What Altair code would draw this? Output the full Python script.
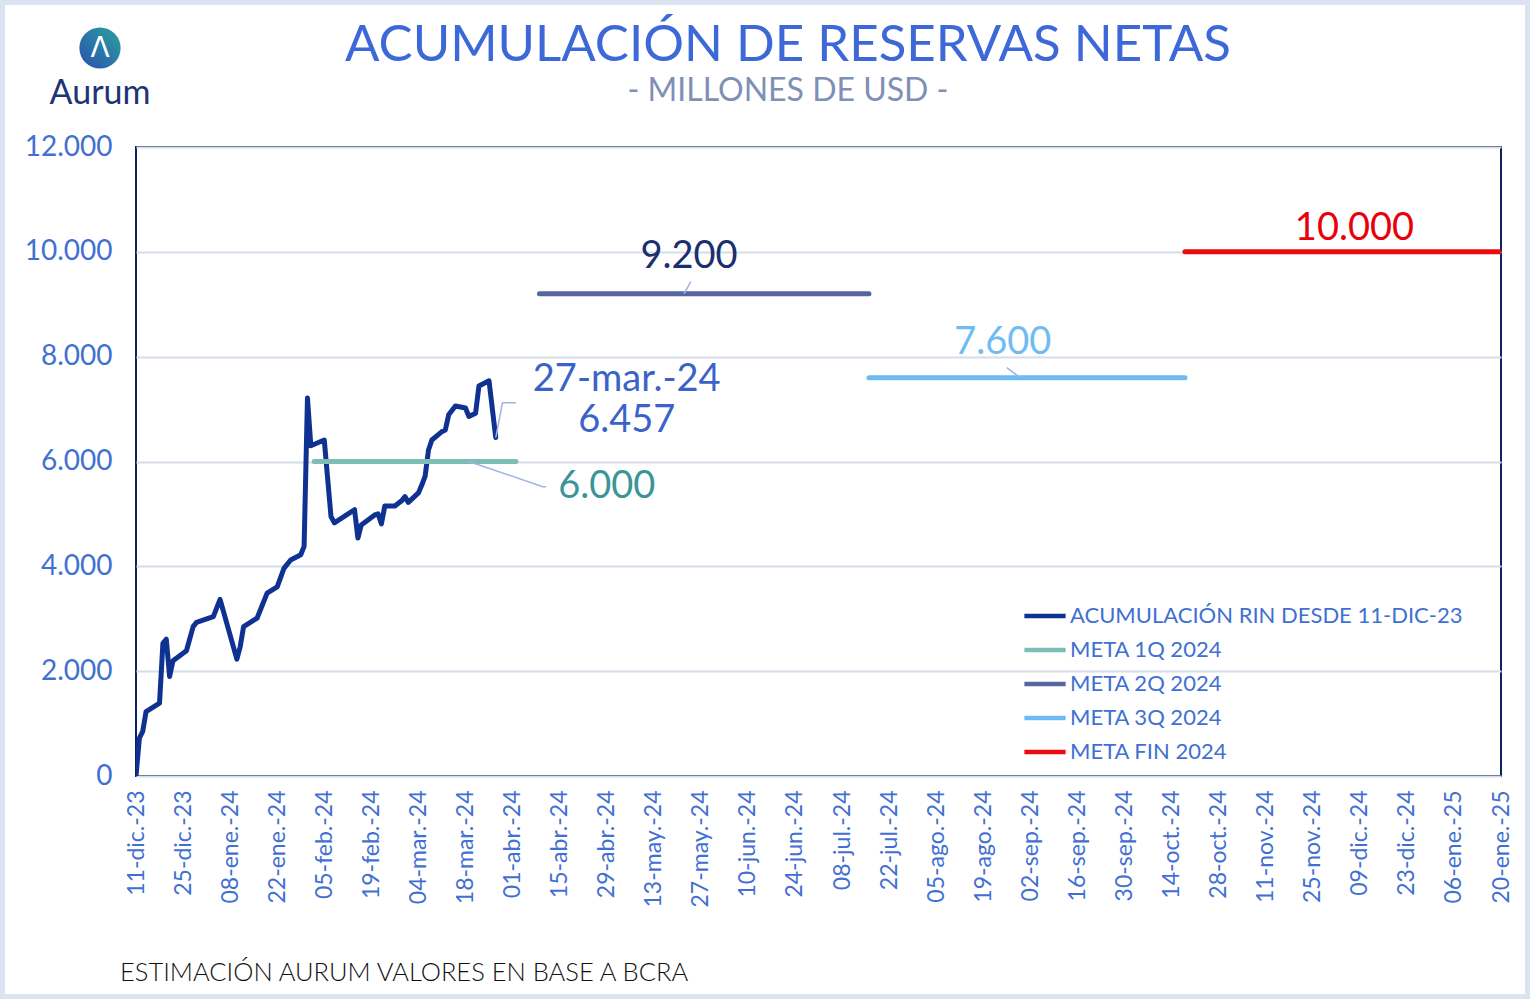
import altair as alt
import pandas as pd

FUENTE = "Lato"
AZUL_TEXTO = "#4170d2"

# ---------------- datos ----------------
# Acumulación de reservas internacionales netas desde el 11-dic-23 (millones de USD)
rin_fechas = [
    "2023-12-11", "2023-12-12", "2023-12-13", "2023-12-14", "2023-12-18",
    "2023-12-19", "2023-12-20", "2023-12-21", "2023-12-22", "2023-12-26",
    "2023-12-28", "2023-12-29", "2024-01-03", "2024-01-05", "2024-01-10",
    "2024-01-11", "2024-01-12", "2024-01-16", "2024-01-19", "2024-01-22",
    "2024-01-24", "2024-01-26", "2024-01-29", "2024-01-30", "2024-01-31",
    "2024-02-01", "2024-02-05", "2024-02-07", "2024-02-08", "2024-02-14",
    "2024-02-15", "2024-02-16", "2024-02-20", "2024-02-21", "2024-02-22",
    "2024-02-23", "2024-02-26", "2024-02-28", "2024-02-29", "2024-03-01",
    "2024-03-04", "2024-03-05", "2024-03-06", "2024-03-07", "2024-03-08",
    "2024-03-11", "2024-03-12", "2024-03-13", "2024-03-15", "2024-03-18",
    "2024-03-19", "2024-03-21", "2024-03-22", "2024-03-25", "2024-03-27",
]
rin_valores = [
    0, 720, 850, 1230, 1390,
    2530, 2610, 1900, 2200, 2390,
    2850, 2930, 3040, 3370, 2230,
    2470, 2850, 3010, 3490, 3610,
    3960, 4120, 4220, 4380, 7210,
    6300, 6410, 4950, 4830, 5080,
    4540, 4790, 4980, 5000, 4810,
    5150, 5150, 5250, 5330, 5220,
    5400, 5550, 5720, 6220, 6410,
    6570, 6600, 6890, 7060, 7020,
    6860, 6920, 7440, 7540, 6457,
]
serie_rin = "ACUMULACIÓN RIN DESDE 11-DIC-23"
rotulo_ultimo = "27-mar.-24"

# Metas de acumulación 2024
meta_nombres = ["META 1Q 2024", "META 2Q 2024", "META 3Q 2024", "META FIN 2024"]
meta_valores = [6000, 9200, 7600, 10000]
meta_desde = ["2024-02-02", "2024-04-09", "2024-07-16", "2024-10-18"]
meta_hasta = ["2024-04-02", "2024-07-16", "2024-10-18", "2025-01-20"]

series = [serie_rin] + meta_nombres
colores_series = ["#0e3192", "#7dbdb4", "#56669f", "#6dbbf3", "#ea0a0f"]

# Líneas guía de las etiquetas de datos
guia_grupos = ["ult", "ult", "ult", "q1", "q1", "q1", "q2", "q2", "q3", "q3"]
guia_fechas = ["2024-03-27", "2024-03-29", "2024-04-02",
               "2024-03-19", "2024-04-10", "2024-04-11",
               "2024-05-22", "2024-05-24",
               "2024-08-26", "2024-08-30"]
guia_valores = [6457, 7120, 7120,
                6000, 5520, 5520,
                9200, 9430,
                7790, 7600]

# Ejes
eje_x_fechas = [
    "2023-12-11", "2023-12-25", "2024-01-08", "2024-01-22", "2024-02-05",
    "2024-02-19", "2024-03-04", "2024-03-18", "2024-04-01", "2024-04-15",
    "2024-04-29", "2024-05-13", "2024-05-27", "2024-06-10", "2024-06-24",
    "2024-07-08", "2024-07-22", "2024-08-05", "2024-08-19", "2024-09-02",
    "2024-09-16", "2024-09-30", "2024-10-14", "2024-10-28", "2024-11-11",
    "2024-11-25", "2024-12-09", "2024-12-23", "2025-01-06", "2025-01-20",
]
eje_y_valores = [0, 2000, 4000, 6000, 8000, 10000, 12000]
meses_es = ["ene.", "feb.", "mar.", "abr.", "may.", "jun.",
            "jul.", "ago.", "sep.", "oct.", "nov.", "dic."]


def ms(fecha):
    return int(pd.Timestamp(fecha, tz="UTC").value // 10**6)


def miles(v):
    return f"{v:,}".replace(",", ".")


# ---------------- tablas ----------------
filas = [{"fecha": f, "valor": v, "serie": serie_rin} for f, v in zip(rin_fechas, rin_valores)]
for nombre, valor, d, h in zip(meta_nombres, meta_valores, meta_desde, meta_hasta):
    filas.append({"fecha": d, "valor": valor, "serie": nombre})
    filas.append({"fecha": h, "valor": valor, "serie": nombre})
df_lineas = pd.DataFrame(filas)

df_guias = pd.DataFrame({"grupo": guia_grupos, "fecha": guia_fechas, "valor": guia_valores})

meses_expr = "[" + ",".join(f"'{m}'" for m in meses_es) + "]"

X_ENC = alt.X(
    "fecha:T",
    title=None,
    scale=alt.Scale(type="utc", domain=[ms(eje_x_fechas[0]), ms(eje_x_fechas[-1])]),
    axis=alt.Axis(
        values=[ms(f) for f in eje_x_fechas],
        labelExpr=(
            "utcFormat(datum.value, '%d') + '-' + " + meses_expr
            + "[utcmonth(datum.value)] + '-' + utcFormat(datum.value, '%y')"
        ),
        labelAngle=270,
        labelFontSize=23,
        labelFont=FUENTE,
        labelColor=AZUL_TEXTO,
        labelPadding=14,
        labelOverlap=False,
        ticks=False,
        domain=False,
        grid=False,
    ),
)
Y_ENC = alt.Y(
    "valor:Q",
    title=None,
    scale=alt.Scale(domain=[0, 12000], nice=False),
    axis=alt.Axis(
        values=eje_y_valores,
        labelExpr="replace(format(datum.value, ','), ',', '.')",
        labelFontSize=28,
        labelFont=FUENTE,
        labelColor=AZUL_TEXTO,
        labelPadding=24,
        ticks=False,
        domain=False,
        grid=True,
        gridColor="#d5dcea",
        gridWidth=2,
    ),
)

lineas = alt.Chart(df_lineas).mark_line(
    strokeWidth=5, strokeCap="round", strokeJoin="round", clip=True
).encode(
    x=X_ENC,
    y=Y_ENC,
    color=alt.Color(
        "serie:N",
        scale=alt.Scale(domain=series, range=colores_series),
        legend=alt.Legend(
            title=None,
            orient="none",
            legendX=886,
            legendY=446,
            symbolType="stroke",
            symbolSize=1700,
            symbolStrokeWidth=4.5,
            labelFontSize=22,
            labelFont=FUENTE,
            labelColor=AZUL_TEXTO,
            labelLimit=700,
            labelOffset=2,
            rowPadding=0,
        ),
    ),
)

guias = alt.Chart(df_guias).mark_line(strokeWidth=1.5, color="#9fb2e4").encode(
    x=X_ENC, y=Y_ENC, detail="grupo:N"
)


def etiqueta(fecha, valor, texto, color, dx, dy, align="center", size=38):
    df = pd.DataFrame({"fecha": [fecha], "valor": [valor], "texto": [texto]})
    return alt.Chart(df).mark_text(
        align=align, baseline="middle", dx=dx, dy=dy,
        fontSize=size, font=FUENTE, color=color,
        lineBreak="\n", lineHeight=41,
    ).encode(x=X_ENC, y=Y_ENC, text="texto:N")


etiquetas = [
    etiqueta("2024-05-22", meta_valores[1], miles(meta_valores[1]), "#1b2e6e", 5, -37),
    etiqueta("2024-08-26", meta_valores[2], miles(meta_valores[2]), "#6fbcf3", -4, -35),
    etiqueta("2024-12-08", meta_valores[3], miles(meta_valores[3]), "#e8000b", -2, -23),
    etiqueta("2024-04-11", meta_valores[0], miles(meta_valores[0]), "#3b9597", 12, 25, align="left"),
    etiqueta(rin_fechas[-1], rin_valores[-1],
             rotulo_ultimo + "\n" + miles(rin_valores[-1]), "#3a63c9", 131, -58),
]


def texto_fijo(texto, x, y, size, color, align="center", weight="normal", font=FUENTE):
    return alt.Chart(pd.DataFrame({"t": [texto]})).mark_text(
        align=align, baseline="middle", fontSize=size, color=color,
        font=font, fontWeight=weight,
    ).encode(text="t:N", x=alt.value(x), y=alt.value(y))


# Marco exterior
marco = alt.Chart(pd.DataFrame({"k": [0]})).mark_rect(
    filled=False, stroke="#dbe3f1", strokeWidth=5
).encode(
    x=alt.value(-133.5), x2=alt.value(1391.5), y=alt.value(-144.5), y2=alt.value(849.5)
)

# Logo
logo_circulo = alt.Chart(pd.DataFrame({"k": [0]})).mark_point(
    shape="circle", filled=True, size=1700, opacity=1, strokeWidth=0,
    fill=alt.LinearGradient(
        gradient="linear",
        stops=[
            alt.GradientStop(offset=0, color="#2aa39e"),
            alt.GradientStop(offset=1, color="#2a4fae"),
        ],
        x1=1, y1=0, x2=0, y2=1,
    ),
).encode(x=alt.value(-36), y=alt.value(-99))

capas = [
    marco,
    lineas,
    guias,
    *etiquetas,
    logo_circulo,
    texto_fijo("Λ", -36, -98, 28, "white", font="DejaVu Sans"),
    texto_fijo("Aurum", -36, -53, 34, "#1c3577"),
    texto_fijo("ACUMULACIÓN DE RESERVAS NETAS", 652, -101, 51, "#3d68d8"),
    texto_fijo("- MILLONES DE USD -", 652, -56, 32, "#7f90b6"),
    texto_fijo("ESTIMACIÓN AURUM VALORES EN BASE A BCRA", -16, 826, 25.5, "#111111", align="left", weight=300),
]

chart = alt.layer(*capas).properties(
    width=1365,
    height=629,
    padding={"left": 136, "top": 147, "right": 29, "bottom": 223},
    autosize=alt.AutoSizeParams(type="none"),
    background="white",
).configure_view(stroke="#0d2260", strokeWidth=2)

chart.save("out.html", embed_options={"renderer": "svg", "actions": False})
